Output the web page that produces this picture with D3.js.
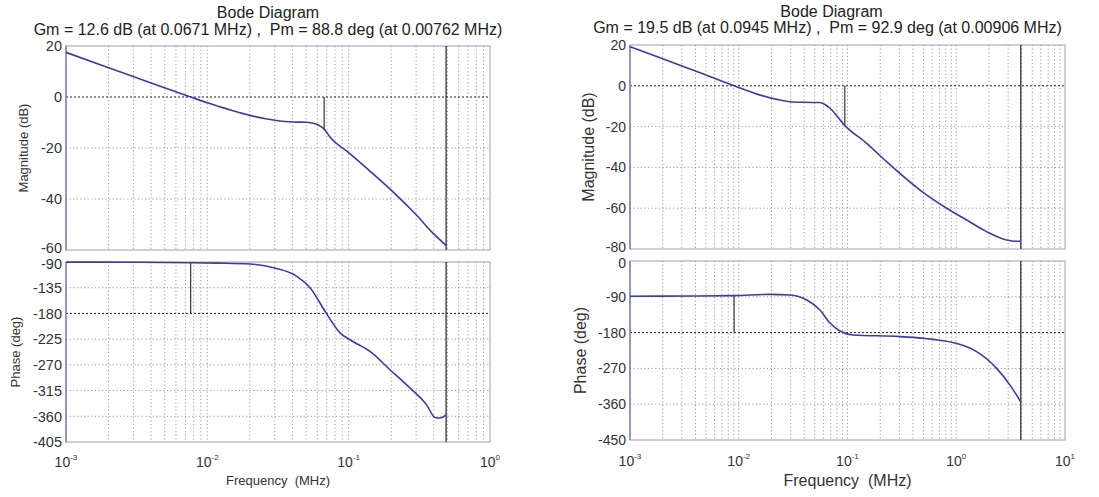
<!DOCTYPE html>
<html><head><meta charset="utf-8">
<script src="https://cdn.jsdelivr.net/npm/d3@7"></script>
<style>body{margin:0;background:#fff}</style>
</head><body>
<svg id="c" width="1099" height="497"></svg>
<script>
// ---------- DATA ----------
const titleText = "Bode Diagram";
const leftSubtitle = "Gm = 12.6 dB (at 0.0671 MHz) ,  Pm = 88.8 deg (at 0.00762 MHz)";
const rightSubtitle = "Gm = 19.5 dB (at 0.0945 MHz) ,  Pm = 92.9 deg (at 0.00906 MHz)";
const xLabelText = "Frequency  (MHz)";
const magLabelText = "Magnitude (dB)";
const phaseLabelText = "Phase (deg)";

// Left plot
const leftMagFreq = [0.001, 0.002, 0.004, 0.00762, 0.01, 0.015, 0.02, 0.03, 0.04, 0.05, 0.058, 0.0645, 0.0671, 0.0738, 0.102, 0.158, 0.207, 0.303, 0.398, 0.489];
const leftMagDb   = [17.5, 11.5, 5.5, 0, -2.3, -5.3, -7.2, -9.1, -9.8, -9.9, -10.5, -11.8, -12.6, -15.7, -22.2, -31.4, -37.3, -46.4, -53.6, -58.2];
const leftPhaseFreq = [0.001, 0.003, 0.00762, 0.012, 0.02, 0.03, 0.043, 0.0533, 0.0692, 0.0869, 0.102, 0.1416, 0.196, 0.272, 0.356, 0.408, 0.443, 0.489];
const leftPhaseDeg  = [-90.2, -90.5, -91.2, -92, -93.5, -100.5, -115, -135, -179, -214, -226, -246.5, -278.6, -310.7, -340, -362, -363, -357.5];
const leftGm = {freq: 0.0671, db: 12.6};
const leftPm = {freq: 0.00762, deg: 88.8};
const leftEndFreq = 0.489;
const leftXTicksExp = [-3, -2, -1, 0];
const leftMagTicks = [20, 0, -20, -40, -60];
const leftPhaseTicks = [-90, -135, -180, -225, -270, -315, -360, -405];

// Right plot
const rightMagFreq = [0.001, 0.002, 0.004, 0.00906, 0.015, 0.0239, 0.0296, 0.04, 0.0558, 0.062, 0.069, 0.0945, 0.15, 0.229, 0.464, 0.817, 1.25, 1.9, 2.91, 3.5, 3.92];
const rightMagDb   = [19.2, 13.2, 7.3, 0, -4.2, -7.0, -7.8, -8.1, -8.2, -9.2, -11.0, -19.5, -28.2, -37.2, -51.1, -60, -65.8, -71.5, -75.6, -76.2, -76.1];
const rightPhaseFreq = [0.001, 0.004, 0.00906, 0.0194, 0.0296, 0.0422, 0.0558, 0.069, 0.0853, 0.113, 0.304, 0.615, 1.0, 1.54, 2.35, 3.12, 3.92];
const rightPhaseDeg  = [-88.5, -88, -87.1, -84, -85.5, -98, -123, -156, -176, -186, -190, -197, -207, -228, -270, -312, -354];
const rightGm = {freq: 0.0945, db: 19.5};
const rightPm = {freq: 0.00906, deg: 92.9};
const rightEndFreq = 3.92;
const rightXTicksExp = [-3, -2, -1, 0, 1];
const rightMagTicks = [20, 0, -20, -40, -60, -80];
const rightPhaseTicks = [0, -90, -180, -270, -360, -450];

// ---------- DRAWING ----------
const svg = d3.select("#c");
const FONT = "'Liberation Sans', Arial, Helvetica, sans-serif";
const TXT = "#333";
const CURVE = "#3a3ca6";

function bode(o) {
  const g = svg.append("g");
  const x = d3.scaleLog().domain(o.xDomain).range([o.x0, o.x1]);
  const yM = d3.scaleLinear().domain([o.magTicks[o.magTicks.length-1], o.magTicks[0]]).range([o.magBottom, o.magTop]);
  const yP = d3.scaleLinear().domain([o.phaseTicks[o.phaseTicks.length-1], o.phaseTicks[0]]).range([o.phBottom, o.phTop]);

  // titles
  const cx = (o.x0 + o.x1) / 2;
  g.append("text").attr("x", cx + o.titleDx).attr("y", o.titleY).attr("text-anchor", "middle")
    .attr("font-family", FONT).attr("font-size", o.titleSize).attr("fill", "#222").text(titleText);
  g.append("text").attr("x", cx + o.subDx).attr("y", o.subY).attr("text-anchor", "middle")
    .attr("font-family", FONT).attr("font-size", o.titleSize).attr("fill", "#222")
    .style("white-space", "pre").text(o.subtitle);

  const gridX = x.ticks();

  function panel(y, ticks, top, bottom, dark, label, labelX, labelY, nudgeFirst, nudgeLast) {
    const p = g.append("g");
    p.append("rect").attr("x", o.x0).attr("y", top).attr("width", o.x1 - o.x0).attr("height", bottom - top)
      .attr("fill", "#fff");
    // vertical grid
    p.selectAll("line.vg").data(gridX.filter(v => v > o.xDomain[0] && v < o.xDomain[1])).enter().append("line")
      .attr("x1", d => x(d)).attr("x2", d => x(d)).attr("y1", top).attr("y2", bottom)
      .attr("stroke", "#808080").attr("stroke-width", 0.8).attr("stroke-dasharray", "1.2,2.4");
    // horizontal grid
    p.selectAll("line.hg").data(ticks.slice(1, -1)).enter().append("line")
      .attr("x1", o.x0).attr("x2", o.x1).attr("y1", d => y(d)).attr("y2", d => y(d))
      .attr("stroke", d => d === dark ? "#222" : "#808080").attr("stroke-width", d => d === dark ? 1 : 0.8)
      .attr("stroke-dasharray", d => d === dark ? "2,2" : "1.2,2.4");
    // frame
    p.append("rect").attr("x", o.x0).attr("y", top).attr("width", o.x1 - o.x0).attr("height", bottom - top)
      .attr("fill", "none").attr("stroke", "#9c9cb8").attr("stroke-width", 1);
    p.append("line").attr("x1", o.x0).attr("x2", o.x0).attr("y1", top).attr("y2", bottom)
      .attr("stroke", "#7070b0").attr("stroke-width", 1.2);
    // y tick labels
    const n = ticks.length;
    p.selectAll("text.yt").data(ticks).enter().append("text")
      .attr("x", o.x0 - 4)
      .attr("y", (d, i) => y(d) + o.tickSize * 0.36 + (i === 0 ? nudgeFirst : 0) + (i === n - 1 ? nudgeLast : 0))
      .attr("text-anchor", "end")
      .attr("font-family", FONT).attr("font-size", o.tickSize).attr("fill", TXT).text(d => d);
    // y label
    p.append("text").attr("transform", `translate(${labelX},${labelY}) rotate(-90)`)
      .attr("text-anchor", "middle").attr("font-family", FONT).attr("font-size", o.labelSize)
      .attr("fill", TXT).text(label);
    return p;
  }

  const pm = panel(yM, o.magTicks, o.magTop, o.magBottom, 0, magLabelText, o.magLabelX, (o.magTop + o.magBottom) / 2, 0, -2);
  const pp = panel(yP, o.phaseTicks, o.phTop, o.phBottom, -180, phaseLabelText, o.phLabelX, (o.phTop + o.phBottom) / 2, 2, 0);

  const line = (y) => d3.line().x(d => x(d[0])).y(d => y(d[1])).curve(d3.curveMonotoneX);

  // end-of-data vertical lines
  [[pm, o.magTop, o.magBottom], [pp, o.phTop, o.phBottom]].forEach(([p, t, b]) => {
    p.append("line").attr("x1", x(o.endFreq)).attr("x2", x(o.endFreq)).attr("y1", t).attr("y2", b)
      .attr("stroke", "#333").attr("stroke-width", 1.3);
  });
  // gain margin marker
  pm.append("line").attr("x1", x(o.gm.freq)).attr("x2", x(o.gm.freq)).attr("y1", yM(0)).attr("y2", yM(-o.gm.db))
    .attr("stroke", "#333").attr("stroke-width", 1.2);
  // phase margin marker
  pp.append("line").attr("x1", x(o.pm.freq)).attr("x2", x(o.pm.freq)).attr("y1", yP(-180)).attr("y2", yP(-180 + o.pm.deg))
    .attr("stroke", "#333").attr("stroke-width", 1.2);

  pm.append("path").datum(d3.zip(o.magF, o.magV)).attr("d", line(yM))
    .attr("fill", "none").attr("stroke", CURVE).attr("stroke-width", 1.6);
  pp.append("path").datum(d3.zip(o.phF, o.phV)).attr("d", line(yP))
    .attr("fill", "none").attr("stroke", CURVE).attr("stroke-width", 1.6);

  // x tick labels 10^n
  const xt = g.selectAll("text.xt").data(o.xExp).enter().append("text")
    .attr("x", d => x(Math.pow(10, d))).attr("y", o.xTickY).attr("text-anchor", "middle")
    .attr("font-family", FONT).attr("font-size", o.xTickSize).attr("fill", TXT);
  xt.append("tspan").text("10");
  xt.append("tspan").attr("dy", -o.xTickSize * 0.5).attr("font-size", o.xTickSize * 0.58).text(d => d);

  g.append("text").attr("x", cx).attr("y", o.xLabelY).attr("text-anchor", "middle")
    .attr("font-family", FONT).attr("font-size", o.labelSize).attr("fill", TXT)
    .style("white-space", "pre").text(xLabelText);
}

bode({
  xDomain: [1e-3, 1], x0: 66, x1: 490, xExp: leftXTicksExp,
  magTicks: leftMagTicks, magTop: 46, magBottom: 250,
  phaseTicks: leftPhaseTicks, phTop: 262, phBottom: 442,
  magF: leftMagFreq, magV: leftMagDb, phF: leftPhaseFreq, phV: leftPhaseDeg,
  gm: leftGm, pm: leftPm, endFreq: leftEndFreq,
  subtitle: leftSubtitle, titleY: 18, subY: 35, titleDx: -10, subDx: -10, titleSize: 16,
  tickSize: 14.5, xTickSize: 14, labelSize: 13, xTickY: 467, xLabelY: 485,
  magLabelX: 28, phLabelX: 20
});

bode({
  xDomain: [1e-3, 10], x0: 630, x1: 1065, xExp: rightXTicksExp,
  magTicks: rightMagTicks, magTop: 45, magBottom: 249,
  phaseTicks: rightPhaseTicks, phTop: 261, phBottom: 440,
  magF: rightMagFreq, magV: rightMagDb, phF: rightPhaseFreq, phV: rightPhaseDeg,
  gm: rightGm, pm: rightPm, endFreq: rightEndFreq,
  subtitle: rightSubtitle, titleY: 17, subY: 33, titleDx: -16, subDx: -20, titleSize: 16,
  tickSize: 14, xTickSize: 14, labelSize: 16, xTickY: 466, xLabelY: 486,
  magLabelX: 594, phLabelX: 586
});
</script>
</body></html>
